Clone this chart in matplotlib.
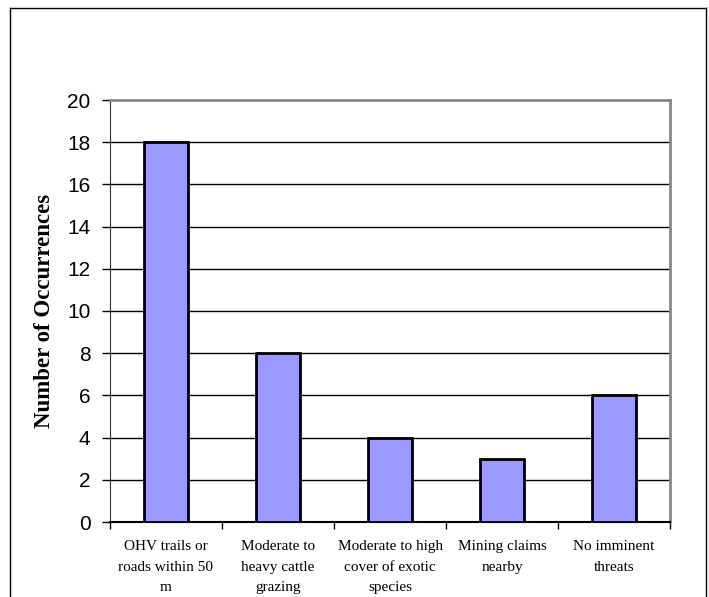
import matplotlib.pyplot as plt
from matplotlib.lines import Line2D

categories = ["OHV trails or\nroads within 50\nm",
              "Moderate to\nheavy cattle\ngrazing",
              "Moderate to high\ncover of exotic\nspecies",
              "Mining claims\nnearby",
              "No imminent\nthreats"]
occurrences = [18, 8, 4, 3, 6]
yticks = [0, 2, 4, 6, 8, 10, 12, 14, 16, 18, 20]

fig = plt.figure(figsize=(7.09, 5.97), dpi=100)
ax = fig.add_axes([110/709, 75/597, 560/709, 422/597])

x = range(len(categories))
ax.bar(x, occurrences, width=0.4, color="#9999FF", edgecolor="black", linewidth=2, zorder=3)

ax.set_xlim(-0.5, len(categories) - 0.5)
ax.set_ylim(0, 20)
ax.set_yticks(yticks)
ax.set_yticklabels([str(t) for t in yticks], fontsize=15, family="Liberation Sans")
for t in yticks[1:-1]:
    ax.axhline(t, color="black", linewidth=1, zorder=1)

ax.set_xticks(list(x))
ax.set_xticklabels(categories, fontsize=11, family="Liberation Serif", linespacing=1.75)
ax.tick_params(axis="x", which="major", length=0, pad=13)
ax.set_xticks([i - 0.5 for i in range(len(categories) + 1)], minor=True)
ax.tick_params(axis="x", which="minor", length=5, width=1, direction="out")
ax.tick_params(axis="y", length=6, width=1, direction="out", pad=8)

ax.spines["top"].set_color("#888888")
ax.spines["right"].set_color("#888888")
ax.spines["top"].set_linewidth(2)
ax.spines["right"].set_linewidth(2)
ax.spines["left"].set_color("#333333")
ax.spines["bottom"].set_color("black")
ax.spines["bottom"].set_linewidth(1.5)

ax.set_ylabel("Number of Occurrences", fontsize=16.5, fontweight="bold",
              family="Liberation Serif", labelpad=9)

# outer chart frame
W, H = 709, 597
fig.add_artist(Line2D([10/W, 10/W], [0, 1 - 8/H], color="black", lw=1))
fig.add_artist(Line2D([10/W, 706/W], [1 - 8/H, 1 - 8/H], color="black", lw=1))
fig.add_artist(Line2D([706/W, 706/W], [0, 1 - 8/H], color="black", lw=1))

fig.savefig("out.png", dpi=100)
